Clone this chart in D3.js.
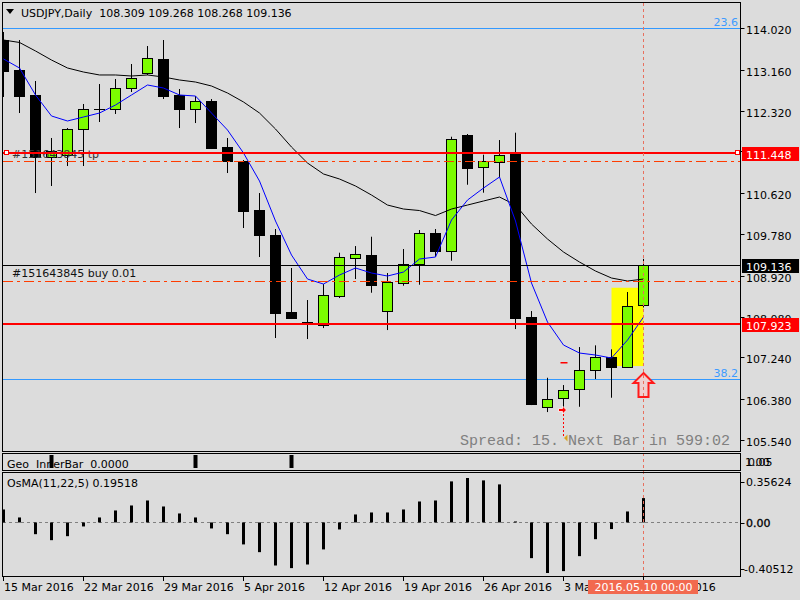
<!DOCTYPE html>
<html>
<head>
<meta charset="utf-8">
<script src="https://cdn.jsdelivr.net/npm/d3@7"></script>
<style>
body { margin: 0; background: #dcdcdc; }
svg text { font-family: "DejaVu Sans", sans-serif; font-size: 11px; white-space: pre; }
</style>
</head>
<body>
<div class="chart"></div>
<script>
const dates = [
  "2016.03.15","2016.03.16","2016.03.17","2016.03.18",
  "2016.03.21","2016.03.22","2016.03.23","2016.03.24","2016.03.25",
  "2016.03.28","2016.03.29","2016.03.30","2016.03.31","2016.04.01",
  "2016.04.04","2016.04.05","2016.04.06","2016.04.07","2016.04.08",
  "2016.04.11","2016.04.12","2016.04.13","2016.04.14","2016.04.15",
  "2016.04.18","2016.04.19","2016.04.20","2016.04.21","2016.04.22",
  "2016.04.25","2016.04.26","2016.04.27","2016.04.28","2016.04.29",
  "2016.05.02","2016.05.03","2016.05.04","2016.05.05","2016.05.06",
  "2016.05.09","2016.05.10"]

const open = [113.773,113.155,112.641,111.365,111.406,111.935,112.350,112.346,112.779,113.088,
  113.376,112.641,112.359,112.517,111.564,111.282,110.274,109.759,108.174,107.968,
  107.906,108.509,109.292,109.347,108.201,108.777,109.156,109.794,109.423,111.817,
  111.152,111.268,111.420,108.065,106.224,106.397,106.583,106.974,107.241,107.048,108.309]
const high = [113.938,113.773,112.929,111.756,111.961,112.456,112.867,112.970,113.279,113.649,
  113.773,112.764,112.620,112.558,111.756,111.303,110.623,109.882,109.080,108.421,
  108.750,109.395,109.532,109.724,108.977,109.471,109.862,109.882,111.782,111.838,
  111.412,111.714,111.865,108.194,106.821,106.671,107.453,107.488,107.406,108.586,109.268]
const low = [112.600,112.270,110.623,110.768,111.179,111.179,112.085,112.250,112.703,113.053,
  112.558,111.961,112.064,111.529,111.035,109.903,109.306,107.639,108.030,107.618,
  107.844,108.462,108.853,108.571,107.803,108.715,108.736,109.312,109.230,110.794,
  110.630,110.953,107.824,106.259,106.115,106.198,106.224,106.795,106.410,107.040,108.268]
const close = [113.135,112.620,111.365,111.488,111.941,112.346,112.345,112.779,112.985,113.396,
  112.626,112.353,112.517,111.550,111.288,110.259,109.765,108.159,108.056,107.927,
  108.524,109.306,109.368,108.736,108.791,109.162,109.794,109.423,111.729,111.144,
  111.276,111.406,108.056,106.280,106.377,106.562,106.980,107.248,107.048,108.297,109.136]

const maFast = [113.382,113.197,112.641,112.209,112.106,112.188,112.270,112.435,112.641,112.847,
  112.785,112.641,112.620,112.270,111.920,111.447,110.870,110.047,109.347,108.853,
  108.750,108.936,109.080,108.977,108.915,108.997,109.265,109.306,110.068,110.479,
  110.726,110.953,110.047,108.771,107.968,107.495,107.330,107.289,107.227,107.597,108.071]
const maSlow = [113.773,113.722,113.547,113.361,113.197,113.114,113.053,113.053,113.032,113.053,
  113.011,112.950,112.908,112.826,112.682,112.497,112.270,111.941,111.570,111.241,
  111.015,110.912,110.768,110.582,110.376,110.294,110.263,110.160,110.294,110.376,
  110.459,110.541,110.376,109.985,109.677,109.409,109.203,109.018,108.874,108.812,108.853]

const osma = [0.104,0.040,-0.094,-0.142,-0.110,-0.032,0.040,0.096,0.136,0.176,
  0.128,0.072,0.040,-0.048,-0.094,-0.176,-0.238,-0.345,-0.366,-0.337,
  -0.216,-0.056,0.064,0.080,0.080,0.104,0.168,0.176,0.329,0.35624,
  0.337,0.305,0.008,-0.286,-0.40512,-0.390,-0.270,-0.134,-0.053,0.088,0.19518]
const innerBar = [0,0,0,1,0,0,0,0,0,0, 0,0,1,0,0,0,0,0,1,0, 0,0,0,0,0,0,0,0,0,0,
  0,0,0,0,0,0,0,0,0,0,0]

const priceTicks = [114.020,113.160,112.320,111.480,110.620,109.780,108.920,108.080,107.240,106.380,105.540]
const osmaTicks = [0.35624, 0.00, -0.40512]
const dateTicks = ["2016.03.15","2016.03.22","2016.03.29","2016.04.05","2016.04.12","2016.04.19","2016.04.26","2016.05.03","2016.05.10"]
const dateTickLabels = ["15 Mar 2016","22 Mar 2016","29 Mar 2016","5 Apr 2016","12 Apr 2016","19 Apr 2016","26 Apr 2016","3 May 2016","10 May 2016"]

const fibLevels = [114.015, 106.788]
const fibLabels = ["23.6", "38.2"]
const redLevels = [111.448, 107.923]
const orderLevels = [111.283, 108.806]
const bid = 109.136
const boxRange = [108.674, 107.062]
const arrowRange = [106.918, 106.424]
const tradeOpen = 106.157, tradeClose = 105.580, tradeStop = 107.130

const W = 800, H = 600
const svg = d3.select('.chart').append('svg').attr('width', W).attr('height', H)
  .style('display', 'block')

svg.append('rect').attr('width', W).attr('height', H).attr('fill', '#dcdcdc')

const x = d3.scalePoint().domain(dates).range([3.5, 643.5])
const y = d3.scaleLinear().domain([105.54, 114.02]).range([440, 28])
const yO = d3.scaleLinear().domain([-0.40512, 0.35624]).range([573, 478])
const yG = d3.scaleLinear().domain([0, 1]).range([468, 455])
const right = 740.5

const defs = svg.append('defs')
defs.append('clipPath').attr('id', 'mainClip')
  .append('rect').attr('x', 3).attr('y', 3).attr('width', 737).attr('height', 448)
defs.append('clipPath').attr('id', 'osClip')
  .append('rect').attr('x', 3).attr('y', 473).attr('width', 737).attr('height', 103)
// date labels hidden under the crosshair date box
defs.append('clipPath').attr('id', 'dateClip')
  .selectAll('rect').data([[0, 588], [698, 800]]).enter().append('rect')
  .attr('x', d => d[0]).attr('y', 578).attr('width', d => d[1] - d[0]).attr('height', 22)

const main = svg.append('g').attr('clip-path', 'url(#mainClip)')

// fibo levels, behind candles
main.selectAll('.fib').data(fibLevels).enter().append('line')
  .attr('x1', 3).attr('x2', right).attr('y1', d => Math.round(y(d)) + 0.5).attr('y2', d => Math.round(y(d)) + 0.5)
  .attr('stroke', '#3399ff').attr('stroke-width', 1)

main.append('rect')
  .attr('x', x(dates[38])).attr('width', x(dates[40]) - x(dates[38]))
  .attr('y', y(boxRange[0])).attr('height', y(boxRange[1]) - y(boxRange[0]))
  .attr('fill', '#ffff00')

const candles = dates.map((d, i) => ({ date: d, o: open[i], h: high[i], l: low[i], c: close[i] }))

main.selectAll('.wick').data(candles).enter().append('line')
  .attr('x1', d => x(d.date)).attr('x2', d => x(d.date))
  .attr('y1', d => y(d.h)).attr('y2', d => y(d.l))
  .attr('stroke', '#000').attr('stroke-width', 1)

main.selectAll('.body').data(candles).enter().append('rect')
  .attr('x', d => x(d.date) - 5)
  .attr('width', 10)
  .attr('y', d => Math.round(y(Math.max(d.o, d.c))) + 0.5)
  .attr('height', d => Math.max(0.01, Math.round(y(Math.min(d.o, d.c))) - Math.round(y(Math.max(d.o, d.c)))))
  .attr('fill', d => d.c >= d.o ? '#7cfc00' : '#000')
  .attr('stroke', '#000').attr('stroke-width', 1)

const maLine = vals => d3.line().x((d, i) => x(dates[i])).y(d => y(d))(vals)

main.append('path').attr('d', maLine(maSlow)).attr('fill', 'none').attr('stroke', '#000').attr('stroke-width', 1)
main.append('path').attr('d', maLine(maFast)).attr('fill', 'none').attr('stroke', '#0000ff').attr('stroke-width', 1)

// order labels
main.append('text').attr('x', 12).attr('y', Math.round(y(redLevels[0])) + 5).attr('fill', '#333').text('#151643845 tp')
main.append('text').attr('x', 12).attr('y', Math.round(y(bid)) + 12).attr('fill', '#111').text('#151643845 buy 0.01')

main.selectAll('.ord').data(orderLevels).enter().append('line')
  .attr('x1', 3).attr('x2', right).attr('y1', d => Math.round(y(d)) + 0.5).attr('y2', d => Math.round(y(d)) + 0.5)
  .attr('stroke', '#ff3c00').attr('stroke-width', 1).attr('stroke-dasharray', '10,4,3,4')

main.append('line')
  .attr('x1', 3).attr('x2', right).attr('y1', Math.round(y(bid)) + 0.5).attr('y2', Math.round(y(bid)) + 0.5)
  .attr('stroke', '#000').attr('stroke-width', 1)

main.selectAll('.red').data(redLevels).enter().append('line')
  .attr('x1', 3).attr('x2', right).attr('y1', d => Math.round(y(d))).attr('y2', d => Math.round(y(d)))
  .attr('stroke', '#ff0000').attr('stroke-width', 2)

main.selectAll('.mark').data([4, 735]).enter().append('rect')
  .attr('x', d => d + 0.5).attr('y', Math.round(y(redLevels[0])) - 2.5)
  .attr('width', 4).attr('height', 4)
  .attr('fill', '#fff').attr('stroke', '#ff0000')

main.selectAll('.fibl').data(fibLevels).enter().append('text')
  .attr('x', 738).attr('y', d => Math.round(y(d)) - 2)
  .attr('text-anchor', 'end').attr('fill', '#3d9bff')
  .text((d, i) => fibLabels[i])

// closed trade marks
const tx = x(dates[35])
main.append('line').attr('x1', tx).attr('x2', tx).attr('y1', y(tradeOpen)).attr('y2', y(tradeClose))
  .attr('stroke', '#ff0000').attr('stroke-dasharray', '2,2')
main.append('polygon')
  .attr('points', `${tx - 5},${y(tradeOpen) - 1.5} ${tx - 1},${y(tradeOpen) - 1.5} ${tx - 1},${y(tradeOpen) - 4} ${tx + 3},${y(tradeOpen)} ${tx - 1},${y(tradeOpen) + 4} ${tx - 1},${y(tradeOpen) + 1.5} ${tx - 5},${y(tradeOpen) + 1.5}`)
  .attr('fill', '#ff0000').attr('stroke', '#fff').attr('stroke-width', 0.8)
main.append('polygon')
  .attr('points', `${tx + 0.5},${y(tradeClose)} ${tx + 4},${y(tradeClose) - 3.5} ${tx + 4},${y(tradeClose) + 3.5}`)
  .attr('fill', '#daa520')
main.append('line').attr('x1', tx - 3).attr('x2', tx + 4).attr('y1', y(tradeStop)).attr('y2', y(tradeStop))
  .attr('stroke', '#ff0000').attr('stroke-width', 1.5)

// up arrow
const ax = x(dates[40]), aTop = y(arrowRange[0]), aBot = y(arrowRange[1])
main.append('polygon')
  .attr('points', `${ax},${aTop} ${ax + 10},${aTop + 10} ${ax + 5},${aTop + 10} ${ax + 5},${aBot} ${ax - 5},${aBot} ${ax - 5},${aTop + 10} ${ax - 10},${aTop + 10}`)
  .attr('fill', '#efd0d0').attr('stroke', '#ff1a1a').attr('stroke-width', 2)

main.append('text').attr('x', 460).attr('y', 445)
  .style('font-family', '"Liberation Mono", "DejaVu Sans Mono", monospace').style('font-size', '15px')
  .attr('fill', '#808080').text('Spread: 15. Next Bar in 599:02')

// geo inner bar panel
svg.selectAll('.geo').data(dates.filter((d, i) => innerBar[i] > 0)).enter().append('rect')
  .attr('x', d => x(d) - 2).attr('width', 4)
  .attr('y', yG(1)).attr('height', yG(0) - yG(1))
  .attr('fill', '#000')

// osma panel
const os = svg.append('g').attr('clip-path', 'url(#osClip)')
os.append('line').attr('x1', 3).attr('x2', right).attr('y1', Math.round(yO(0)) + 0.5).attr('y2', Math.round(yO(0)) + 0.5)
  .attr('stroke', '#808080').attr('stroke-dasharray', '3,3')
os.selectAll('.osb').data(osma).enter().append('rect')
  .attr('x', (d, i) => x(dates[i]) - 1.5).attr('width', 3)
  .attr('y', d => yO(Math.max(d, 0)))
  .attr('height', d => Math.abs(yO(d) - yO(0)))
  .attr('fill', '#000')

// crosshair
svg.append('line').attr('x1', ax).attr('x2', ax).attr('y1', 3).attr('y2', 577)
  .attr('stroke', '#e8705e').attr('stroke-dasharray', '3,3')

// frames
const frames = [[2.5, 451.5], [453.5, 470.5], [472.5, 576.5]]
svg.selectAll('.frame').data(frames).enter().append('rect')
  .attr('x', 2.5).attr('y', d => d[0]).attr('width', right - 2.5).attr('height', d => d[1] - d[0])
  .attr('fill', 'none').attr('stroke', '#000')

// price axis
svg.selectAll('.ptick').data(priceTicks).enter().append('line')
  .attr('x1', right).attr('x2', right + 4).attr('y1', d => Math.round(y(d)) + 0.5).attr('y2', d => Math.round(y(d)) + 0.5)
  .attr('stroke', '#000')
svg.selectAll('.plab').data(priceTicks).enter().append('text')
  .attr('x', 746).attr('y', d => y(d) + 6).attr('fill', '#000')
  .text(d => d.toFixed(3))

const boxes = [[redLevels[0], '#ff0000'], [bid, '#000'], [redLevels[1], '#ff0000']]
boxes.forEach(([v, col]) => {
  const yy = Math.round(y(v))
  svg.append('rect').attr('x', 742).attr('y', yy - 6).attr('width', 57).attr('height', 14).attr('fill', col)
  svg.append('text').attr('x', 746).attr('y', yy + 6).attr('fill', '#fff').text(v.toFixed(3))
})

// osma axis
const osOff = [8, 4.5, 0]
svg.selectAll('.otick').data(osmaTicks).enter().append('line')
  .attr('x1', right).attr('x2', right + 4).attr('y1', (d, i) => Math.round(yO(d) + osOff[i] - 4) + 0.5).attr('y2', (d, i) => Math.round(yO(d) + osOff[i] - 4) + 0.5)
  .attr('stroke', '#000')
svg.selectAll('.olab').data(osmaTicks).enter().append('text')
  .attr('x', d => d < 0 ? 744 : 746).attr('y', (d, i) => yO(d) + osOff[i])
  .attr('fill', '#000').attr('stroke', d => d === 0 ? '#000' : 'none').attr('stroke-width', 0.3)
  .text(d => d === 0 ? '0.00' : d.toFixed(5))

svg.append('text').attr('x', 745).attr('y', 466).attr('fill', '#000').text('1.00')
svg.append('text').attr('x', 748).attr('y', 466).attr('fill', '#000').text('0.05')

// date axis
svg.selectAll('.dtick').data(dateTicks).enter().append('line')
  .attr('x1', d => Math.floor(x(d)) + 0.5).attr('x2', d => Math.floor(x(d)) + 0.5).attr('y1', 577).attr('y2', 581)
  .attr('stroke', '#000')
svg.append('g').attr('clip-path', 'url(#dateClip)')
  .selectAll('.dlab').data(dateTicks).enter().append('text')
  .attr('x', d => x(d) + 0.5).attr('y', 591).attr('fill', '#000')
  .text((d, i) => dateTickLabels[i])

svg.append('rect').attr('x', 588).attr('y', 580).attr('width', 110).attr('height', 14).attr('fill', '#f2694f')
svg.append('text').attr('x', ax).attr('y', 591).attr('text-anchor', 'middle').attr('fill', '#fff').text('2016.05.10 00:00')

// titles
svg.append('polygon').attr('points', '6,9 14,9 10,14').attr('fill', '#000')
svg.append('text').attr('x', 21).attr('y', 17).attr('fill', '#000')
  .text(`USDJPY,Daily  ${open[40].toFixed(3)} ${high[40].toFixed(3)} ${low[40].toFixed(3)} ${close[40].toFixed(3)}`)
svg.append('text').attr('x', 7).attr('y', 468).attr('fill', '#000').text('Geo  InnerBar  0.0000')
svg.append('text').attr('x', 7).attr('y', 487).attr('fill', '#000').text(`OsMA(11,22,5) ${osma[40].toFixed(5)}`)
</script>
</body>
</html>
